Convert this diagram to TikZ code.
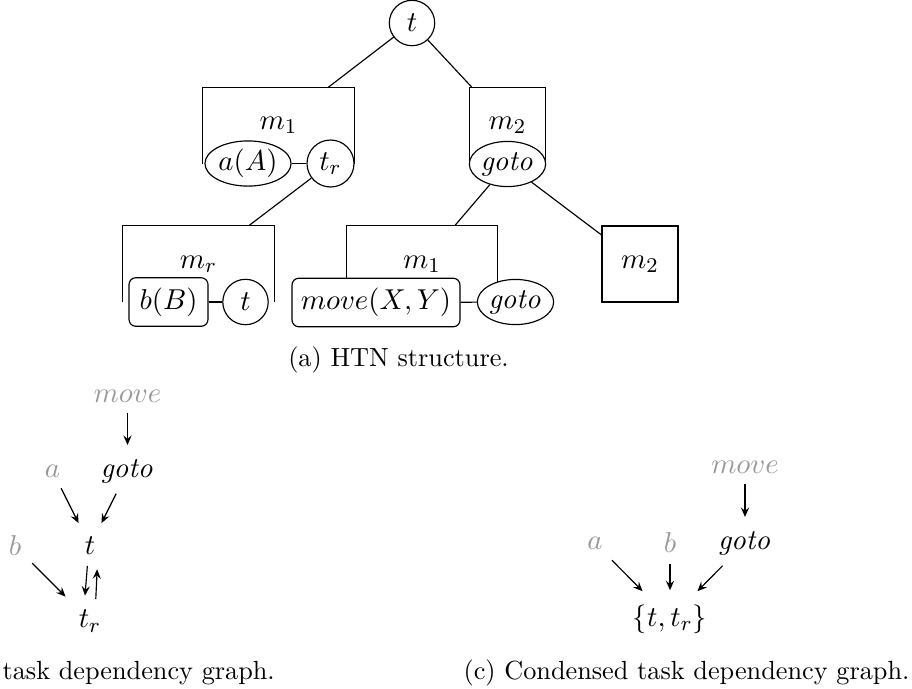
\documentclass[tikz,border=0pt]{standalone}
\usetikzlibrary{shapes.geometric,arrows.meta}
\begin{document}
\begin{tikzpicture}[x=0.381pt,y=-0.381pt,line width=0.44pt,
  every node/.style={font=\fontsize{10.95}{13}\selectfont},
  circ/.style={circle,draw,fill=white,inner sep=0pt,minimum size=17.3pt},
  ell/.style={ellipse,draw,fill=white,inner sep=0pt,minimum height=17.2pt},
  rbox/.style={rectangle,rounded corners=2.6pt,draw,fill=white,inner sep=0pt,minimum height=18.5pt},
  mbox/.style={rectangle,inner sep=0pt,minimum height=28.8pt},
  gn/.style={inner sep=3.7pt,outer sep=0.5pt},
  grey/.style={text=black!40},
  captext/.style={font=\normalsize,inner sep=0pt},
  arr/.style={-{Stealth[length=3.6pt,width=3.1pt,inset=1.3pt]},shorten >=1.3pt}]
\useasboundingbox (0,0) rectangle (912,688);

% method boxes (labels at their centres)
\node[mbox,minimum width=57.5pt] (B1) at (278.5,125.5) {$m_1$};
\node[mbox,minimum width=28.6pt] (B2) at (507.5,125.5) {$m_2$};
\node[mbox,minimum width=57.5pt] (B3) at (198.5,264) {$m_r$};
\node[mbox,minimum width=57.2pt] (B4) at (422,264) {$m_1$};
\node[mbox,draw,minimum width=29pt,minimum height=29pt] (B5) at (640,264) {$m_2$};
\foreach \b in {B1,B2,B3,B4}
  \draw (\b.south west) -- (\b.north west) -- (\b.north east) -- (\b.south east);

% task nodes
\node[circ] (T) at (412,23) {$t$};
\node[ell,minimum width=32.8pt] (aA) at (248,163.5) {$a(A)$};
\node[circ,minimum size=17.9pt] (tr) at (330.5,163.5) {$t_r$};
\node[ell,minimum width=28.6pt] (g1) at (507.5,164) {$\mathit{goto}$};
\node[rbox,minimum width=30.1pt] (bB) at (168.5,302) {$b(B)$};
\node[circ] (t2) at (245.5,302) {$t$};
\node[rbox,minimum width=64pt] (mv) at (376,302.5) {$move(X,Y)$};
\node[ell,minimum width=28.6pt] (g2) at (515.5,302) {$\mathit{goto}$};

\draw (aA) -- (tr);
\draw (bB) -- (t2);
\draw (mv) -- (g2);
\draw (T) -- (B1);
\draw (T) -- (B2);
\draw (tr) -- (B3);
\draw (g1) -- (B4);
\draw (g1) -- (B5);

\node[captext,anchor=base] (capa) at (398.5,366) {(a) HTN structure.};

% full task dependency graph
\node[gn] (Ltr) at (90,621) {$t_r$};
\node[gn] (Lt) at (90,546) {$t$};
\node[gn,grey] (Lb) at (15,546) {$b$};
\node[gn,grey] (La) at (52.5,471) {$a$};
\node[gn] (Lg) at (127.5,471) {$\mathit{goto}$};
\node[gn,grey] (Lm) at (127.5,396) {$move$};
\draw[arr] (Lm) -- (Lg);
\draw[arr] (La) -- (Lt);
\draw[arr] (Lg) -- (Lt);
\draw[arr] (Lb) -- (Ltr);
\draw[arr] ([xshift=-1pt]Lt.south) -- ([xshift=-2pt]Ltr.north);
\draw[arr] ([xshift=2.2pt]Ltr.north) -- ([xshift=2.8pt]Lt.south);
\node[captext,anchor=base west] (capb) at (2,679) {task dependency graph.};

% condensed graph
\node[gn] (Rs) at (670,619) {$\{t,t_r\}$};
\node[gn,grey] (Ra) at (595,543) {$a$};
\node[gn,grey] (Rb) at (670,543) {$b$};
\node[gn] (Rg) at (745,543) {$\mathit{goto}$};
\node[gn,grey] (Rm) at (745,467) {$move$};
\draw[arr] (Rm) -- (Rg);
\draw[arr] (Ra) -- (Rs);
\draw[arr] (Rb) -- (Rs);
\draw[arr] (Rg) -- (Rs);
\node[captext,anchor=base east] (capc) at (910,679) {(c) Condensed task dependency graph.};
\end{tikzpicture}
\end{document}
